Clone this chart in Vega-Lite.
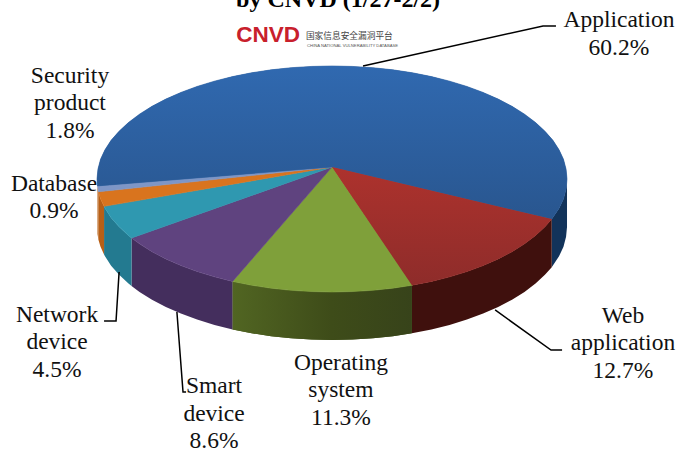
{"$schema":"https://vega.github.io/schema/vega-lite/v6.json","width":678,"height":450,"padding":0,"autosize":"none","background":"white","config":{"view":{"stroke":null},"axis":{"domain":false}},
"resolve":{"scale":{"fill":"independent"}},
"datasets":{
"walls":[
{"s":"Application","x":1,"y":0,"y2":-0.425},{"s":"Application","x":0.996,"y":-0.087,"y2":-0.512},{"s":"Application","x":0.985,"y":-0.174,"y2":-0.599},{"s":"Application","x":0.966,"y":-0.259,"y2":-0.684},{"s":"Application","x":0.935,"y":-0.355,"y2":-0.78},
{"s":"Web","x":0.935,"y":-0.355,"y2":-0.78},{"s":"Web","x":0.906,"y":-0.423,"y2":-0.848},{"s":"Web","x":0.866,"y":-0.5,"y2":-0.925},{"s":"Web","x":0.819,"y":-0.574,"y2":-0.999},{"s":"Web","x":0.766,"y":-0.643,"y2":-1.068},{"s":"Web","x":0.707,"y":-0.707,"y2":-1.132},{"s":"Web","x":0.643,"y":-0.766,"y2":-1.191},{"s":"Web","x":0.574,"y":-0.819,"y2":-1.244},{"s":"Web","x":0.5,"y":-0.866,"y2":-1.291},{"s":"Web","x":0.423,"y":-0.906,"y2":-1.331},{"s":"Web","x":0.34,"y":-0.94,"y2":-1.365},
{"s":"OS","x":0.34,"y":-0.94,"y2":-1.365},{"s":"OS","x":0.259,"y":-0.966,"y2":-1.391},{"s":"OS","x":0.174,"y":-0.985,"y2":-1.41},{"s":"OS","x":0.087,"y":-0.996,"y2":-1.421},{"s":"OS","x":0,"y":-1,"y2":-1.425},{"s":"OS","x":-0.087,"y":-0.996,"y2":-1.421},{"s":"OS","x":-0.174,"y":-0.985,"y2":-1.41},{"s":"OS","x":-0.259,"y":-0.966,"y2":-1.391},{"s":"OS","x":-0.342,"y":-0.94,"y2":-1.365},{"s":"OS","x":-0.423,"y":-0.906,"y2":-1.331},
{"s":"Smart","x":-0.423,"y":-0.906,"y2":-1.331},{"s":"Smart","x":-0.5,"y":-0.866,"y2":-1.291},{"s":"Smart","x":-0.574,"y":-0.819,"y2":-1.244},{"s":"Smart","x":-0.643,"y":-0.766,"y2":-1.191},{"s":"Smart","x":-0.707,"y":-0.707,"y2":-1.132},{"s":"Smart","x":-0.766,"y":-0.643,"y2":-1.068},{"s":"Smart","x":-0.819,"y":-0.574,"y2":-0.999},{"s":"Smart","x":-0.853,"y":-0.522,"y2":-0.947},
{"s":"Network","x":-0.853,"y":-0.522,"y2":-0.947},{"s":"Network","x":-0.866,"y":-0.5,"y2":-0.925},{"s":"Network","x":-0.906,"y":-0.423,"y2":-0.848},{"s":"Network","x":-0.94,"y":-0.342,"y2":-0.767},{"s":"Network","x":-0.966,"y":-0.259,"y2":-0.684},{"s":"Network","x":-0.97,"y":-0.242,"y2":-0.667},
{"s":"Database","x":-0.97,"y":-0.242,"y2":-0.667},{"s":"Database","x":-0.985,"y":-0.174,"y2":-0.599},{"s":"Database","x":-0.994,"y":-0.113,"y2":-0.538},
{"s":"Security","x":-0.994,"y":-0.113,"y2":-0.538},{"s":"Security","x":-0.996,"y":-0.087,"y2":-0.512},{"s":"Security","x":-0.998,"y":-0.061,"y2":-0.486}
],
"tops":[
{"s":"Web","i":0,"x":0,"y":0.106},{"s":"Web","i":1,"x":0.935,"y":-0.355},{"s":"Web","i":2,"x":0.906,"y":-0.423},{"s":"Web","i":3,"x":0.866,"y":-0.5},{"s":"Web","i":4,"x":0.819,"y":-0.574},{"s":"Web","i":5,"x":0.766,"y":-0.643},{"s":"Web","i":6,"x":0.707,"y":-0.707},{"s":"Web","i":7,"x":0.643,"y":-0.766},{"s":"Web","i":8,"x":0.574,"y":-0.819},{"s":"Web","i":9,"x":0.5,"y":-0.866},{"s":"Web","i":10,"x":0.423,"y":-0.906},{"s":"Web","i":11,"x":0.34,"y":-0.94},{"s":"Web","i":12,"x":0,"y":0.106},
{"s":"OS","i":0,"x":0,"y":0.106},{"s":"OS","i":1,"x":0.342,"y":-0.94},{"s":"OS","i":2,"x":0.259,"y":-0.966},{"s":"OS","i":3,"x":0.174,"y":-0.985},{"s":"OS","i":4,"x":0.087,"y":-0.996},{"s":"OS","i":5,"x":0,"y":-1},{"s":"OS","i":6,"x":-0.087,"y":-0.996},{"s":"OS","i":7,"x":-0.174,"y":-0.985},{"s":"OS","i":8,"x":-0.259,"y":-0.966},{"s":"OS","i":9,"x":-0.342,"y":-0.94},{"s":"OS","i":10,"x":-0.423,"y":-0.906},{"s":"OS","i":11,"x":0,"y":0.106},
{"s":"Smart","i":0,"x":0,"y":0.106},{"s":"Smart","i":1,"x":-0.423,"y":-0.906},{"s":"Smart","i":2,"x":-0.5,"y":-0.866},{"s":"Smart","i":3,"x":-0.574,"y":-0.819},{"s":"Smart","i":4,"x":-0.643,"y":-0.766},{"s":"Smart","i":5,"x":-0.707,"y":-0.707},{"s":"Smart","i":6,"x":-0.766,"y":-0.643},{"s":"Smart","i":7,"x":-0.819,"y":-0.574},{"s":"Smart","i":8,"x":-0.853,"y":-0.522},{"s":"Smart","i":9,"x":0,"y":0.106},
{"s":"Network","i":0,"x":0,"y":0.106},{"s":"Network","i":1,"x":-0.853,"y":-0.522},{"s":"Network","i":2,"x":-0.866,"y":-0.5},{"s":"Network","i":3,"x":-0.906,"y":-0.423},{"s":"Network","i":4,"x":-0.94,"y":-0.342},{"s":"Network","i":5,"x":-0.966,"y":-0.259},{"s":"Network","i":6,"x":-0.97,"y":-0.242},{"s":"Network","i":7,"x":0,"y":0.106},
{"s":"Database","i":0,"x":0,"y":0.106},{"s":"Database","i":1,"x":-0.97,"y":-0.242},{"s":"Database","i":2,"x":-0.985,"y":-0.174},{"s":"Database","i":3,"x":-0.994,"y":-0.113},{"s":"Database","i":4,"x":0,"y":0.106},
{"s":"Security","i":0,"x":0,"y":0.106},{"s":"Security","i":1,"x":-0.994,"y":-0.113},{"s":"Security","i":2,"x":-0.996,"y":-0.087},{"s":"Security","i":3,"x":-0.998,"y":-0.061},{"s":"Security","i":4,"x":0,"y":0.106},
{"s":"Application","i":0,"x":0,"y":0.106},{"s":"Application","i":1,"x":-0.998,"y":-0.061},{"s":"Application","i":2,"x":-1,"y":0},{"s":"Application","i":3,"x":-0.996,"y":0.087},{"s":"Application","i":4,"x":-0.985,"y":0.174},{"s":"Application","i":5,"x":-0.966,"y":0.259},{"s":"Application","i":6,"x":-0.94,"y":0.342},{"s":"Application","i":7,"x":-0.906,"y":0.423},{"s":"Application","i":8,"x":-0.866,"y":0.5},{"s":"Application","i":9,"x":-0.819,"y":0.574},{"s":"Application","i":10,"x":-0.766,"y":0.643},{"s":"Application","i":11,"x":-0.707,"y":0.707},{"s":"Application","i":12,"x":-0.643,"y":0.766},{"s":"Application","i":13,"x":-0.574,"y":0.819},{"s":"Application","i":14,"x":-0.5,"y":0.866},{"s":"Application","i":15,"x":-0.423,"y":0.906},{"s":"Application","i":16,"x":-0.342,"y":0.94},{"s":"Application","i":17,"x":-0.259,"y":0.966},{"s":"Application","i":18,"x":-0.174,"y":0.985},{"s":"Application","i":19,"x":-0.087,"y":0.996},{"s":"Application","i":20,"x":0,"y":1},{"s":"Application","i":21,"x":0.087,"y":0.996},{"s":"Application","i":22,"x":0.174,"y":0.985},{"s":"Application","i":23,"x":0.259,"y":0.966},{"s":"Application","i":24,"x":0.342,"y":0.94},{"s":"Application","i":25,"x":0.423,"y":0.906},{"s":"Application","i":26,"x":0.5,"y":0.866},{"s":"Application","i":27,"x":0.574,"y":0.819},{"s":"Application","i":28,"x":0.643,"y":0.766},{"s":"Application","i":29,"x":0.707,"y":0.707},{"s":"Application","i":30,"x":0.766,"y":0.643},{"s":"Application","i":31,"x":0.819,"y":0.574},{"s":"Application","i":32,"x":0.866,"y":0.5},{"s":"Application","i":33,"x":0.906,"y":0.423},{"s":"Application","i":34,"x":0.94,"y":0.342},{"s":"Application","i":35,"x":0.966,"y":0.259},{"s":"Application","i":36,"x":0.985,"y":0.174},{"s":"Application","i":37,"x":0.996,"y":0.087},{"s":"Application","i":38,"x":1,"y":0},{"s":"Application","i":39,"x":0.996,"y":-0.087},{"s":"Application","i":40,"x":0.985,"y":-0.174},{"s":"Application","i":41,"x":0.966,"y":-0.259},{"s":"Application","i":42,"x":0.935,"y":-0.355},{"s":"Application","i":43,"x":0,"y":0.106}
],
"leaders":[
{"s":"Application","i":0,"x":0.132,"y":1.0},{"s":"Application","i":1,"x":0.898,"y":1.354},{"s":"Application","i":2,"x":0.953,"y":1.354},
{"s":"Web","i":0,"x":0.694,"y":-1.159},{"s":"Web","i":1,"x":0.932,"y":-1.513},{"s":"Web","i":2,"x":0.979,"y":-1.513},
{"s":"Network","i":0,"x":-0.906,"y":-0.823},{"s":"Network","i":1,"x":-0.919,"y":-1.257},{"s":"Network","i":2,"x":-0.97,"y":-1.257},
{"s":"Smart","i":0,"x":-0.66,"y":-1.177},{"s":"Smart","i":1,"x":-0.634,"y":-1.885},{"s":"Smart","i":2,"x":-0.621,"y":-1.885}
],
"labels":[
{"label":"Application\n60.2%","x":1.221,"y":1.345},
{"label":"Security\nproduct\n1.8%","x":-1.115,"y":0.85},
{"label":"Database\n0.9%","x":-1.183,"y":-0.106},
{"label":"Network\ndevice\n4.5%","x":-1.17,"y":-1.265},
{"label":"Smart\ndevice\n8.6%","x":-0.502,"y":-1.894},
{"label":"Operating\nsystem\n11.3%","x":0.038,"y":-1.69},
{"label":"Web\napplication\n12.7%","x":1.238,"y":-1.274}
]
},
"layer":[
{"data":{"name":"walls"},"mark":{"type":"area","interpolate":"linear"},"encoding":{
"x":{"field":"x","type":"quantitative","axis":null,"scale":{"domain":[-1.4128,1.4723],"nice":false,"zero":false}},
"y":{"field":"y","type":"quantitative","axis":null,"stack":null,"scale":{"domain":[-2.398,1.584],"nice":false,"zero":false}},
"y2":{"field":"y2"},
"detail":{"field":"s"},
"fill":{"field":"s","type":"nominal","legend":null,"scale":{"domain":["Application","Web","OS","Smart","Network","Database","Security"],"range":["#12335a","#3f100d","#45551c","#442e5d","#237a90","#b85f16","#b85f16"]}}
}},
{"data":{"name":"walls"},"transform":[{"filter":"datum.s==='OS'"}],"mark":{"type":"area","interpolate":"linear","fill":{"gradient":"linear","x1":0,"y1":0,"x2":1,"y2":0,"stops":[{"offset":0,"color":"#516522"},{"offset":0.55,"color":"#3e4c19"},{"offset":1,"color":"#37431a"}]}},"encoding":{
"x":{"field":"x","type":"quantitative"},
"y":{"field":"y","type":"quantitative","stack":null},
"y2":{"field":"y2"}
}},
{"data":{"name":"tops"},"mark":{"type":"line","strokeWidth":0.6,"interpolate":"linear"},"encoding":{
"x":{"field":"x","type":"quantitative"},
"y":{"field":"y","type":"quantitative"},
"order":{"field":"i","type":"quantitative"},
"detail":{"field":"s"},
"fill":{"field":"s","type":"nominal","legend":null,"scale":{"domain":["Application","Web","OS","Smart","Network","Database","Security"],"range":["#2d60a0","#99302c","#7fa03a","#5f437f","#2f98b0","#d9741e","#7e96c6"]}},
"stroke":{"field":"s","type":"nominal","legend":null,"scale":{"domain":["Application","Web","OS","Smart","Network","Database","Security"],"range":["#2d60a0","#99302c","#7fa03a","#5f437f","#2f98b0","#d9741e","#7e96c6"]}}
}},
{"data":{"name":"tops"},"transform":[{"filter":"datum.s==='Application'"}],"mark":{"type":"line","strokeWidth":0,"interpolate":"linear","fill":{"gradient":"linear","x1":0,"y1":0,"x2":0,"y2":1,"stops":[{"offset":0,"color":"#3069b0"},{"offset":1,"color":"#29568f"}]}},"encoding":{
"x":{"field":"x","type":"quantitative"},
"y":{"field":"y","type":"quantitative"},
"order":{"field":"i","type":"quantitative"}
}},
{"data":{"name":"tops"},"transform":[{"filter":"datum.s==='Web'"}],"mark":{"type":"line","strokeWidth":0,"interpolate":"linear","fill":{"gradient":"linear","x1":0,"y1":0,"x2":0,"y2":1,"stops":[{"offset":0,"color":"#ad322d"},{"offset":1,"color":"#8e2c2a"}]}},"encoding":{
"x":{"field":"x","type":"quantitative"},
"y":{"field":"y","type":"quantitative"},
"order":{"field":"i","type":"quantitative"}
}},
{"data":{"name":"leaders"},"mark":{"type":"line","color":"#000000","strokeWidth":1.5,"interpolate":"linear"},"encoding":{
"x":{"field":"x","type":"quantitative"},
"y":{"field":"y","type":"quantitative"},
"order":{"field":"i","type":"quantitative"},
"detail":{"field":"s"}
}},
{"data":{"name":"labels"},"mark":{"type":"text","font":"Liberation Serif","fontSize":23.5,"lineBreak":"\n","lineHeight":27.5,"align":"center","baseline":"alphabetic","color":"#111111"},"encoding":{
"x":{"field":"x","type":"quantitative"},
"y":{"field":"y","type":"quantitative"},
"text":{"field":"label"}
}},
{"data":{"values":[{"t":"by CNVD (1/27-2/2)","x":0.026,"y":1.522}]},"mark":{"type":"text","font":"Liberation Serif","fontWeight":"bold","fontSize":24,"align":"center","baseline":"alphabetic","color":"#000000"},"encoding":{
"x":{"field":"x","type":"quantitative"},"y":{"field":"y","type":"quantitative"},"text":{"field":"t"}
}},
{"data":{"values":[{"t":"CNVD","x":-0.272,"y":1.212}]},"mark":{"type":"text","font":"Liberation Sans","fontWeight":"bold","fontSize":22.5,"align":"center","baseline":"alphabetic","color":"#c8202c"},"encoding":{
"x":{"field":"x","type":"quantitative"},"y":{"field":"y","type":"quantitative"},"text":{"field":"t"}
}},
{"data":{"values":[{"t":"国家信息安全漏洞平台","x":-0.111,"y":1.239}]},"mark":{"type":"text","font":"Noto Sans CJK SC","fontSize":8.7,"align":"left","baseline":"alphabetic","color":"#444444"},"encoding":{
"x":{"field":"x","type":"quantitative"},"y":{"field":"y","type":"quantitative"},"text":{"field":"t"}
}},
{"data":{"values":[{"t":"CHINA NATIONAL VULNERABILITY DATABASE","x":-0.106,"y":1.168}]},"mark":{"type":"text","font":"Liberation Sans","fontSize":4.2,"align":"left","baseline":"alphabetic","color":"#555555"},"encoding":{
"x":{"field":"x","type":"quantitative"},"y":{"field":"y","type":"quantitative"},"text":{"field":"t"}
}}
]}
